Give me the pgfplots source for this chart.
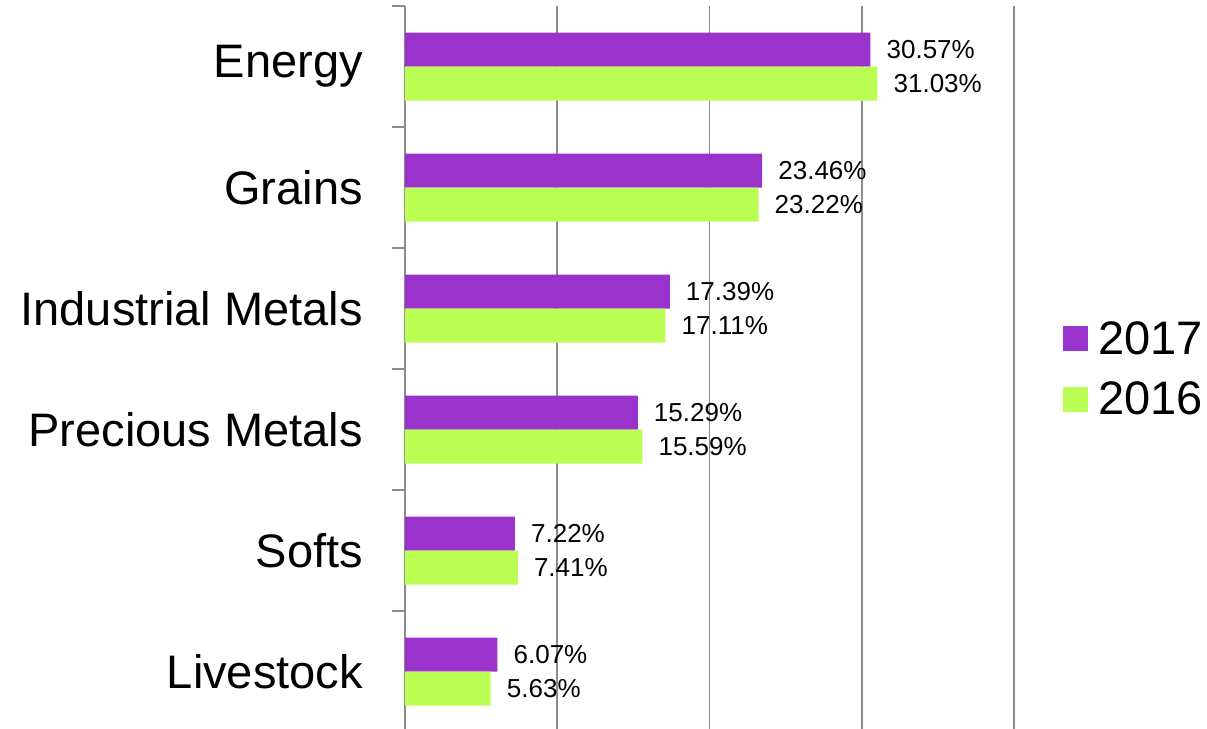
\documentclass[border=0pt]{standalone}
\usepackage{fontspec}
\setmainfont{Liberation Sans}
\usepackage{pgfplots}
\pgfplotsset{compat=1.18}
\definecolor{c17}{HTML}{9933CC}
\definecolor{c16}{HTML}{BBFF55}
\definecolor{gridgray}{HTML}{8C8C8C}

\begin{document}
\begin{tikzpicture}[x=1pt,y=1pt]
\path[use as bounding box] (-405,4) rectangle (802,732);
\begin{axis}[
    at={(0,0)}, anchor=south west,
    scale only axis, width=609pt, height=726pt,
    xbar=0pt, bar width=34pt,
    xmin=0, xmax=40, ymin=-0.5, ymax=5.5,
    y dir=reverse,
    axis lines*=left,
    x axis line style={draw=none},
    y axis line style={gridgray, line width=1.8pt},
    xtick={0,10,20,30,40}, xticklabels={},
    xtick style={draw=none},
    xmajorgrids,
    grid style={gridgray, line width=1.8pt},
    ytick={0,...,5},
    yticklabels={Energy,Grains,Industrial Metals,Precious Metals,Softs,Livestock},
    yticklabel style={font=\fontsize{47}{52}\selectfont, inner sep=0pt, xshift=-42pt},
    major tick length=0pt,
    minor ytick={-0.5,0.5,1.5,2.5,3.5,4.5,5.5},
    minor tick length=13pt,
    tick align=outside, ytick pos=left,
    minor tick style={gridgray, line width=1.8pt},
    point meta=explicit symbolic,
    nodes near coords={\pgfplotspointmeta\%},
    nodes near coords style={font=\fontsize{26}{30}\selectfont, anchor=west, inner sep=0pt, xshift=16pt},
    legend style={at={(1.0805,0.5)}, anchor=west, draw=none, inner sep=0pt,
        font=\fontsize{47}{52}\selectfont, row sep=26pt, column sep=0pt,
        nodes={inner sep=0pt}},
    legend cell align=left,
    legend image code/.code={\fill[#1, draw=none] (0pt,-12.5pt) rectangle (25pt,12.5pt); \path (35pt,0pt);},
]
\addplot[fill=c17, draw=none, bar shift=17pt] coordinates {
    (30.57,0) [30.57]
    (23.46,1) [23.46]
    (17.39,2) [17.39]
    (15.29,3) [15.29]
    (7.22,4) [7.22]
    (6.07,5) [6.07]
};
\addplot[fill=c16, draw=none, bar shift=-17pt] coordinates {
    (31.03,0) [31.03]
    (23.22,1) [23.22]
    (17.11,2) [17.11]
    (15.59,3) [15.59]
    (7.41,4) [7.41]
    (5.63,5) [5.63]
};
\legend{2017,2016}
\end{axis}
\end{tikzpicture}
\end{document}
